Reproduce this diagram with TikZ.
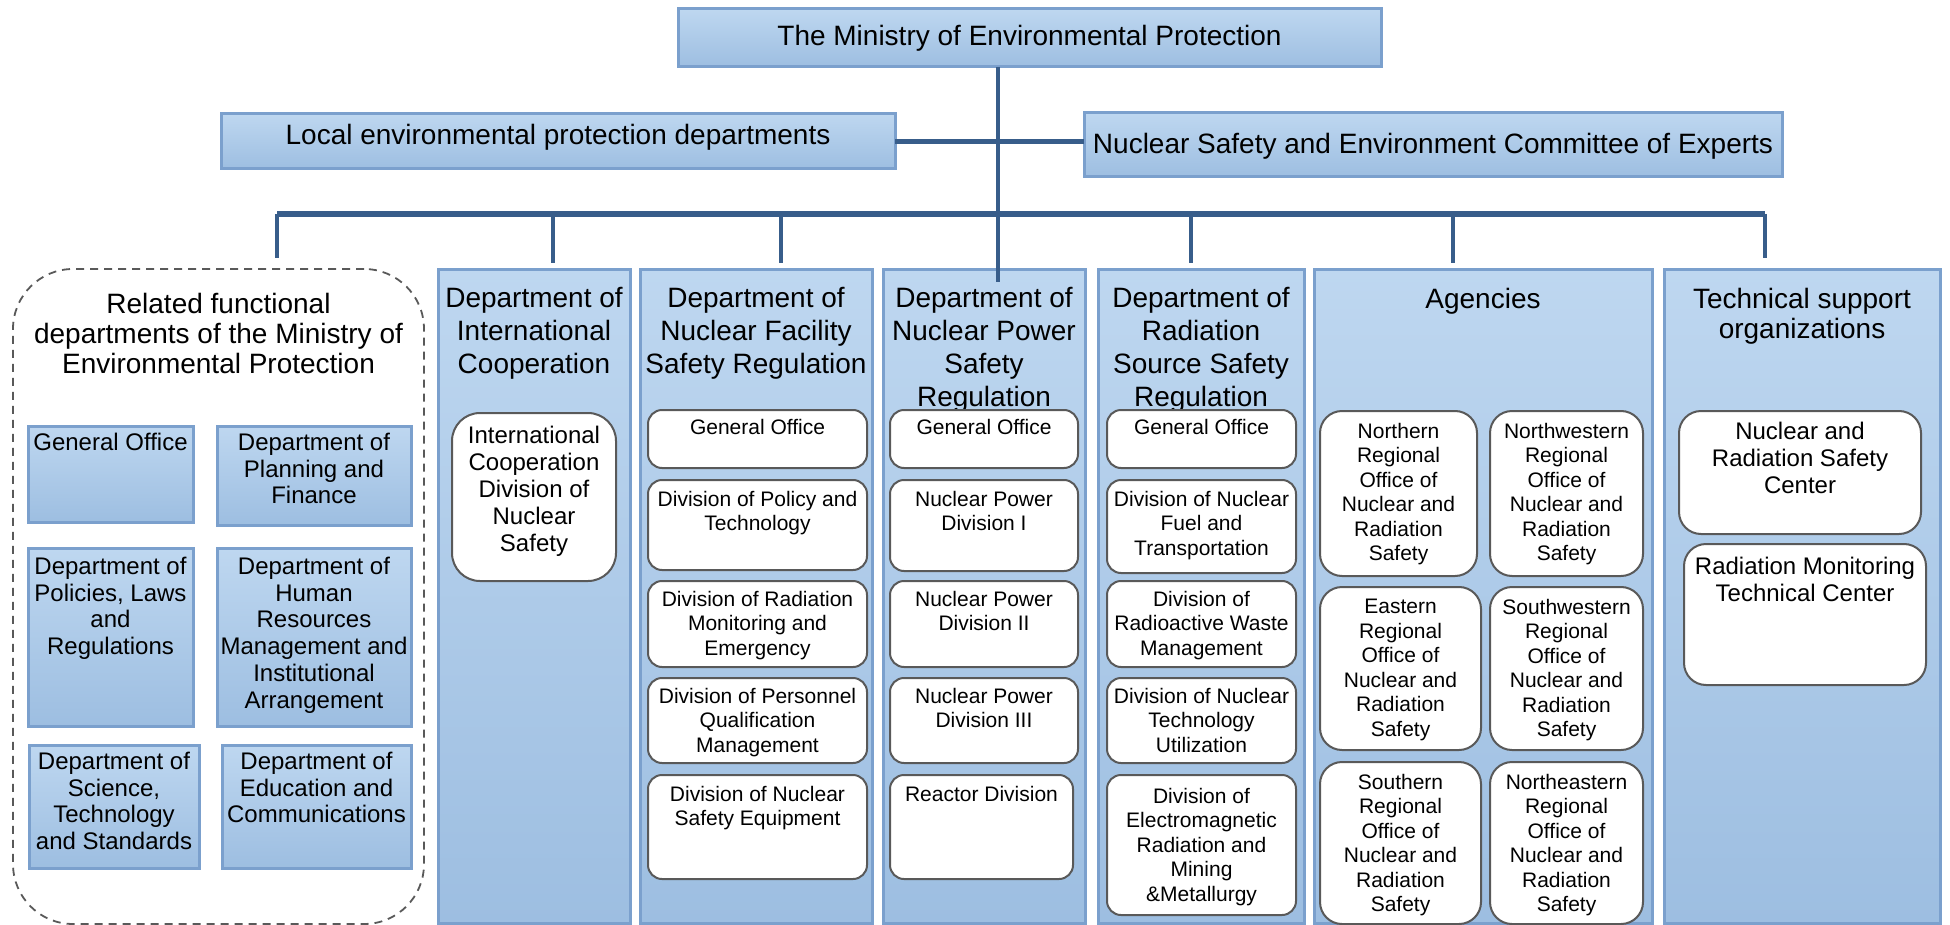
\documentclass[tikz,border=0pt]{standalone}
\usepackage{fontspec}
\setmainfont{Liberation Sans}
\usetikzlibrary{calc}
\definecolor{conn}{HTML}{385D8A}
\definecolor{bordblue}{HTML}{7BA0CD}
\definecolor{filltop}{HTML}{BED7F0}
\definecolor{fillbot}{HTML}{9DBEE1}
\definecolor{subborder}{HTML}{595959}
\newcommand{\bx}[9]{%
  \node[#1, minimum width={(#5-#3)*1pt}, minimum height={(#6-#4)*1pt}, anchor=north west] (#2) at (#3,#4) {};
  \node[txt,#7] (#2t) at ({(#3+#5)/2},#8) {#9};
}
\begin{document}
\begin{tikzpicture}[x=1pt,y=-1pt,
  bluebox/.style={draw=bordblue, line width=3pt, top color=filltop, bottom color=fillbot, rectangle, inner sep=0pt, outer sep=0pt},
  whitebox/.style={draw=subborder, line width=2pt, fill=white, rectangle, rounded corners=14pt, inner sep=0pt, outer sep=0pt},
  dashgroup/.style={draw=subborder, line width=1.8pt, dash pattern=on 8pt off 6pt, rectangle, rounded corners=60pt, inner sep=0pt, outer sep=0pt},
  conline/.style={draw=conn, line width=4.5pt},
  busline/.style={draw=conn, line width=5.5pt},
  txt/.style={anchor=north, inner sep=0pt, align=center, text=black},
  big/.style={font=\fontsize{28}{33}\selectfont},
  ttl/.style={font=\fontsize{28}{30}\selectfont},
  grp/.style={font=\fontsize{24}{26.7}\selectfont},
  mid/.style={font=\fontsize{24}{27}\selectfont},
  sub/.style={font=\fontsize{21}{24.5}\selectfont}]
\useasboundingbox (0,0) rectangle (1950,925);

% top level
\bx{bluebox}{ministry}{678}{9}{1381}{67}{big}{25}{The Ministry of Environmental Protection}
\bx{bluebox}{local}{221}{114}{895}{169}{big}{124}{Local environmental protection departments}
\bx{bluebox}{nse}{1084}{113}{1782}{177}{big}{133}{Nuclear Safety and Environment Committee of Experts}

% related functional departments
\bx{dashgroup}{grp}{13}{269}{424}{924}{ttl}{293}{Related functional\\departments of the Ministry of\\Environmental Protection}
\bx{bluebox}{go}{28}{426}{193}{522}{grp}{433}{General Office}
\bx{bluebox}{plan}{217}{426}{411}{525}{grp}{433}{Department of\\Planning and\\Finance}
\bx{bluebox}{pol}{28}{548}{193}{726}{grp}{557}{Department of\\Policies, Laws\\and\\Regulations}
\bx{bluebox}{hr}{217}{548}{411}{726}{grp}{557}{Department of\\Human\\Resources\\Management and\\Institutional\\Arrangement}
\bx{bluebox}{sci}{29}{745}{199}{868}{grp}{752}{Department of\\Science,\\Technology\\and Standards}
\bx{bluebox}{edu}{222}{745}{411}{868}{grp}{752}{Department of\\Education and\\Communications}

% columns
\bx{bluebox}{intl}{438}{269}{630}{923}{big}{287}{Department of\\International\\Cooperation}
\bx{bluebox}{fac}{640}{269}{872}{923}{big}{287}{Department of\\Nuclear Facility\\Safety Regulation}
\bx{bluebox}{pow}{883}{269}{1085}{923}{big}{287}{Department of\\Nuclear Power\\Safety\\Regulation}
\bx{bluebox}{rad}{1098}{269}{1304}{923}{big}{287}{Department of\\Radiation\\Source Safety\\Regulation}
\bx{bluebox}{agc}{1314}{269}{1652}{923}{big}{288}{Agencies}
\bx{bluebox}{tech}{1664}{269}{1940}{923}{ttl}{288}{Technical support\\organizations}

% international
\bx{whitebox,rounded corners=28pt}{intlA}{452}{413}{616}{581}{mid}{426}{International\\Cooperation\\Division of\\Nuclear\\Safety}

% facility
\bx{whitebox}{facA}{648}{410}{867}{468}{sub}{419}{General Office}
\bx{whitebox}{facB}{648}{480}{867}{570}{sub}{491}{Division of Policy and\\Technology}
\bx{whitebox}{facC}{648}{581}{867}{667}{sub}{591}{Division of Radiation\\Monitoring and\\Emergency}
\bx{whitebox}{facD}{648}{678}{867}{763}{sub}{688}{Division of Personnel\\Qualification\\Management}
\bx{whitebox}{facE}{648}{775}{867}{879}{sub}{786}{Division of Nuclear\\Safety Equipment}

% power
\bx{whitebox}{powA}{890}{410}{1078}{468}{sub}{419}{General Office}
\bx{whitebox}{powB}{890}{480}{1078}{571}{sub}{491}{Nuclear Power\\Division I}
\bx{whitebox}{powC}{890}{581}{1078}{667}{sub}{591}{Nuclear Power\\Division II}
\bx{whitebox}{powD}{890}{678}{1078}{763}{sub}{688}{Nuclear Power\\Division III}
\bx{whitebox}{powE}{890}{775}{1073}{879}{sub}{786}{Reactor Division}

% radiation
\bx{whitebox}{radA}{1107}{410}{1296}{468}{sub}{419}{General Office}
\bx{whitebox}{radB}{1107}{480}{1296}{573}{sub}{491}{Division of Nuclear\\Fuel and\\Transportation}
\bx{whitebox}{radC}{1107}{581}{1296}{667}{sub}{591}{Division of\\Radioactive Waste\\Management}
\bx{whitebox}{radD}{1107}{678}{1296}{763}{sub}{688}{Division of Nuclear\\Technology\\Utilization}
\bx{whitebox}{radE}{1107}{775}{1296}{915}{sub}{788}{Division of\\Electromagnetic\\Radiation and\\Mining\\\&Metallurgy}

% agencies
\bx{whitebox,rounded corners=22pt}{agN}{1320}{411}{1477}{576}{sub}{423}{Northern\\Regional\\Office of\\Nuclear and\\Radiation\\Safety}
\bx{whitebox,rounded corners=22pt}{agNW}{1490}{411}{1643}{576}{sub}{423}{Northwestern\\Regional\\Office of\\Nuclear and\\Radiation\\Safety}
\bx{whitebox,rounded corners=22pt}{agE}{1320}{587}{1481}{750}{sub}{599}{Eastern\\Regional\\Office of\\Nuclear and\\Radiation\\Safety}
\bx{whitebox,rounded corners=22pt}{agSW}{1490}{587}{1643}{750}{sub}{599}{Southwestern\\Regional\\Office of\\Nuclear and\\Radiation\\Safety}
\bx{whitebox,rounded corners=22pt}{agS}{1320}{762}{1481}{924}{sub}{774}{Southern\\Regional\\Office of\\Nuclear and\\Radiation\\Safety}
\bx{whitebox,rounded corners=22pt}{agNE}{1490}{762}{1643}{924}{sub}{774}{Northeastern\\Regional\\Office of\\Nuclear and\\Radiation\\Safety}

% technical support
\bx{whitebox,rounded corners=22pt}{tcA}{1679}{411}{1921}{534}{mid}{422}{Nuclear and\\Radiation Safety\\Center}
\bx{whitebox,rounded corners=22pt}{tcB}{1684}{544}{1926}{685}{mid}{557}{Radiation Monitoring\\Technical Center}

% connectors
\coordinate (trunkEnd) at (998,282);
\coordinate (busL) at (277,214);
\coordinate (busR) at (1765,214);
\coordinate (dA) at (277,258);
\coordinate (dB) at (553,263);
\coordinate (dC) at (781,263);
\coordinate (dD) at (1191,263);
\coordinate (dE) at (1453,263);
\coordinate (dF) at (1765,258);
\draw[conline] (local.east) -- (local.east -| nse.west);
\draw[busline] (busL) -- (busR);
\draw[conline] (busL) -- (dA);
\draw[conline] (dB |- busL) -- (dB);
\draw[conline] (dC |- busL) -- (dC);
\draw[conline] (dD |- busL) -- (dD);
\draw[conline] (dE |- busL) -- (dE);
\draw[conline] (busR) -- (dF);
\draw[conline] (ministry.south -| trunkEnd) -- (trunkEnd);
\end{tikzpicture}
\end{document}
